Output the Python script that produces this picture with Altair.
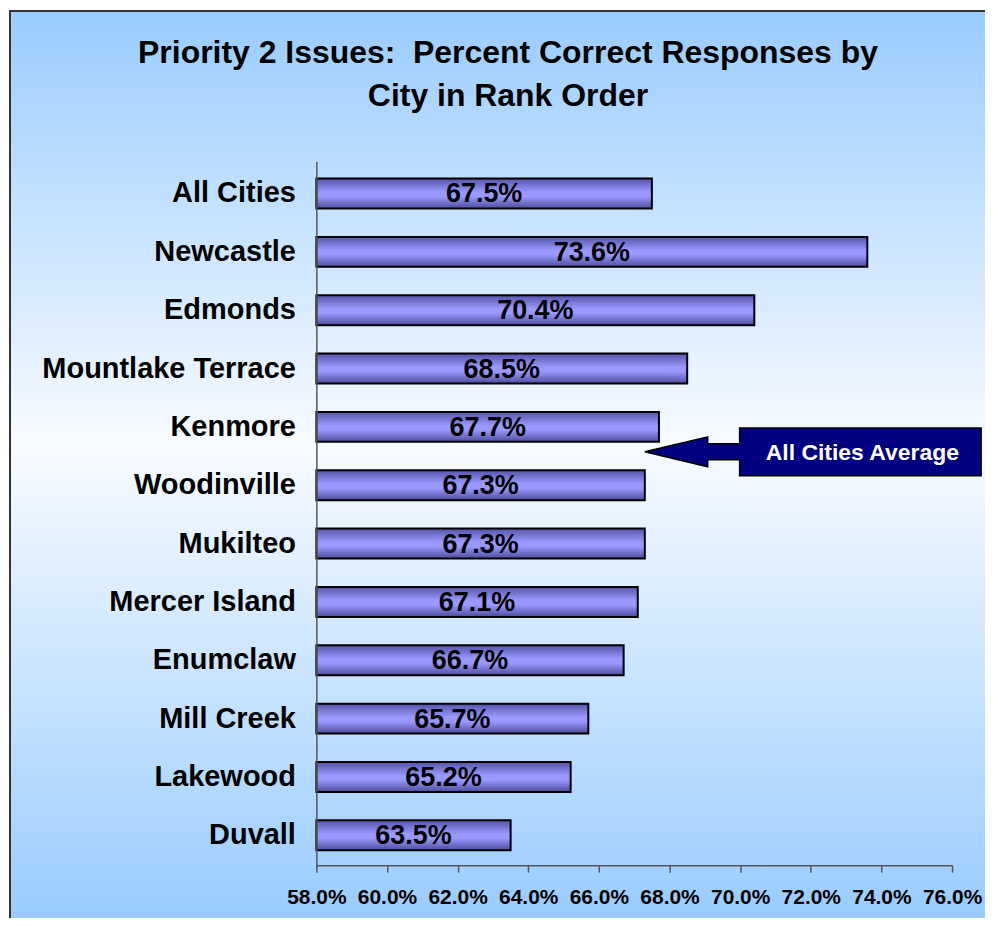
import altair as alt
import pandas as pd

# ---- data ----
cities = ["All Cities", "Newcastle", "Edmonds", "Mountlake Terrace", "Kenmore",
          "Woodinville", "Mukilteo", "Mercer Island", "Enumclaw", "Mill Creek",
          "Lakewood", "Duvall"]
percent = [67.5, 73.6, 70.4, 68.5, 67.7, 67.3, 67.3, 67.1, 66.7, 65.7, 65.2, 63.5]
x_ticks = [58, 60, 62, 64, 66, 68, 70, 72, 74, 76]
title_lines = ["Priority 2 Issues:\u00a0 Percent Correct Responses by", "City in Rank Order"]
callout_label = ["All Cities Average"]
callout_city = ["Kenmore"]
callout_value = [67.3]

# ---- layout / style ----
W, H = 978, 910
FONT = "Liberation Sans"

df = pd.DataFrame({"city": cities, "pct": percent})
anno = pd.DataFrame({"city": callout_city, "pct": callout_value, "label": callout_label})

x_scale = alt.Scale(domain=[x_ticks[0], x_ticks[-1]], range=[308, 945], zero=False, nice=False)
y_scale = alt.Scale(domain=cities, range=[152, 859], paddingInner=0.487, paddingOuter=0.29)

bg_grad = alt.LinearGradient(
    gradient="linear", x1=0, y1=0, x2=0, y2=1,
    stops=[alt.GradientStop(offset=0, color="#99CCFF"),
           alt.GradientStop(offset=0.48, color="#F8FBFF"),
           alt.GradientStop(offset=1, color="#99CCFF")])

bar_grad = alt.LinearGradient(
    gradient="linear", x1=0, y1=0, x2=0, y2=1,
    stops=[alt.GradientStop(offset=0, color="#5454A8"),
           alt.GradientStop(offset=0.45, color="#9999FF"),
           alt.GradientStop(offset=0.6, color="#9999FF"),
           alt.GradientStop(offset=1, color="#4C4C9C")])

one = alt.Data(values=[{}])

bg = alt.Chart(one).mark_rect(fill=bg_grad).encode(
    x=alt.value(0), x2=alt.value("width"), y=alt.value(0), y2=alt.value("height"))

left_border = alt.Chart(one).mark_rule(color="#333333", strokeWidth=2).encode(
    x=alt.value(1), y=alt.value(0), y2=alt.value("height"))
top_border = alt.Chart(one).mark_rule(color="#333333", strokeWidth=2).encode(
    x=alt.value(0), x2=alt.value("width"), y=alt.value(1))

x_axis = alt.Axis(values=x_ticks, title=None, grid=False, orient="bottom", offset=-53,
                  labelExpr="format(datum.value, '.1f') + '%'",
                  labelFont=FONT, labelFontSize=21, labelFontWeight="bold",
                  labelColor="black", labelPadding=14, labelFlush=False,
                  labelOverlap=False, tickSize=7, tickColor="#555555",
                  tickWidth=1.5, domainColor="#555555", domainWidth=1.5, zindex=1)
y_axis = alt.Axis(title=None, grid=False, orient="left", offset=-308, ticks=False,
                  tickSize=0, labelFont=FONT, labelFontSize=29,
                  labelFontWeight="bold", labelColor="black", labelPadding=21,
                  labelLimit=400, domainColor="#555555", domainWidth=1.5, zindex=1)

bars = alt.Chart(df).mark_bar(fill=bar_grad, stroke="black", strokeWidth=2).encode(
    x=alt.X("pct:Q", scale=x_scale, axis=x_axis),
    x2=alt.datum(x_ticks[0]),
    y=alt.Y("city:N", scale=y_scale, axis=y_axis),
)

labels = alt.Chart(df).transform_calculate(
    mid=f"({x_ticks[0]} + datum.pct) / 2",
    lab="format(datum.pct, '.1f') + '%'",
).mark_text(font=FONT, fontSize=27, fontWeight="bold", color="black",
            align="center", baseline="middle", dy=1).encode(
    x=alt.X("mid:Q", scale=x_scale, axis=x_axis),
    y=alt.Y("city:N", scale=y_scale, axis=y_axis),
    text="lab:N",
)

callout_path = ("M0,0 L0.3739,-0.089 L0.3739,-0.0475 L0.5638,-0.0475 L0.5638,-0.1424 "
                "L2,-0.1424 L2,0.1424 L0.5638,0.1424 L0.5638,0.0475 L0.3739,0.0475 "
                "L0.3739,0.089 Z")

arrow = alt.Chart(anno).mark_point(
    shape=callout_path, size=337 ** 2, filled=True, fill="#000080", stroke="black",
    strokeWidth=1.5, opacity=1, yOffset=25).encode(
    x=alt.X("pct:Q", scale=x_scale, axis=x_axis),
    y=alt.Y("city:N", scale=y_scale, axis=y_axis),
)

callout_text = alt.Chart(anno).mark_text(
    font=FONT, fontSize=23, fontWeight="bold", color="white", align="center",
    baseline="middle", dx=218, dy=26).encode(
    x=alt.X("pct:Q", scale=x_scale, axis=x_axis),
    y=alt.Y("city:N", scale=y_scale, axis=y_axis),
    text="label:N",
)

chart = alt.layer(bg, left_border, top_border, bars, labels, arrow, callout_text).properties(
    width=W, height=H, padding=0,
    title=alt.Title(title_lines, font=FONT, fontSize=32, fontWeight="bold", color="black",
                    anchor="middle", baseline="top", offset=-104, dx=11, lineHeight=43,
                    zindex=1),
).configure_view(stroke=None)

chart.save("out.html", embed_options={"renderer": "svg", "actions": False})
